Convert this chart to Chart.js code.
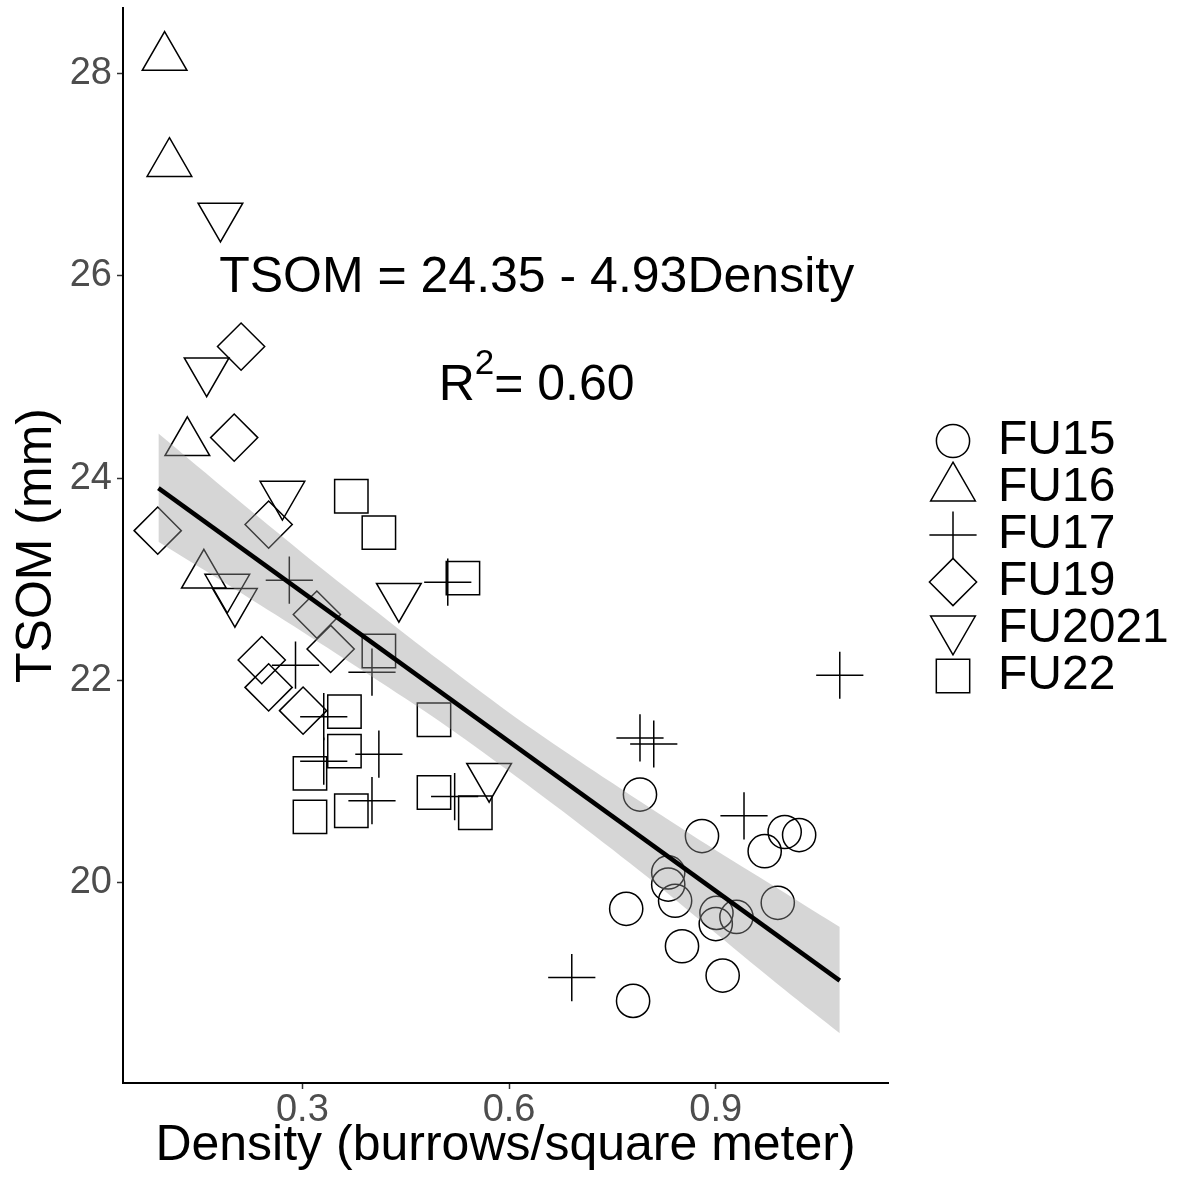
<!DOCTYPE html>
<html>
<head>
<meta charset="utf-8">
<title>TSOM vs burrow density</title>
<script src="https://cdn.jsdelivr.net/npm/chart.js@4.4.1/dist/chart.umd.min.js"></script>
<style>
  html, body { margin: 0; padding: 0; background: #fff; }
  canvas { display: block; }
</style>
</head>
<body>
<canvas id="chart" width="1179" height="1186"></canvas>
<script>
// values
const fu15X = [0.790, 0.880, 1.000, 1.021, 0.971, 0.831, 0.831, 0.841, 0.770, 0.901, 0.900, 0.930, 0.990, 0.851, 0.910, 0.780];
const fu15Y = [20.87, 20.46, 20.50, 20.47, 20.31, 20.10, 19.98, 19.82, 19.74, 19.70, 19.59, 19.66, 19.80, 19.37, 19.08, 18.83];

const fu16X = [0.100, 0.107, 0.133, 0.157];
const fu16Y = [28.16, 27.11, 24.35, 23.04];

const fu17X = [0.281, 0.511, 0.290, 0.401, 0.331, 0.331, 0.411, 0.401, 0.521, 0.790, 0.810, 0.941, 0.691, 1.080];
const fu17Y = [22.99, 22.97, 22.15, 22.08, 21.64, 21.20, 21.27, 20.81, 20.85, 21.43, 21.37, 20.66, 19.06, 22.05];

const fu19X = [0.211, 0.201, 0.090, 0.251, 0.321, 0.341, 0.241, 0.251, 0.301];
const fu19Y = [25.30, 24.40, 23.48, 23.54, 22.65, 22.31, 22.20, 21.93, 21.70];

const fu2021X = [0.181, 0.161, 0.271, 0.191, 0.202, 0.440, 0.571];
const fu2021Y = [26.59, 25.06, 23.84, 22.92, 22.78, 22.83, 21.05];

const fu22X = [0.371, 0.411, 0.533, 0.411, 0.361, 0.491, 0.361, 0.311, 0.491, 0.311, 0.371, 0.551];
const fu22Y = [23.82, 23.46, 23.01, 22.29, 21.69, 21.61, 21.30, 21.08, 20.89, 20.65, 20.71, 20.69];

// fitted line and its confidence band
const fitX = [0.091, 1.080];
const fitY = [23.90, 19.03];
const bandX = [0.091, 0.2, 0.3, 0.4, 0.5, 0.6, 0.7, 0.8, 0.9, 1.0, 1.080];
const bandUpper = [24.44, 23.82, 23.26, 22.72, 22.19, 21.68, 21.21, 20.76, 20.32, 19.90, 19.56];
const bandLower = [23.37, 22.91, 22.48, 22.04, 21.59, 21.10, 20.59, 20.06, 19.50, 18.94, 18.51];

const xTicks = [0.3, 0.6, 0.9];
const yTicks = [20, 22, 24, 26, 28];

const eqText = 'TSOM = 24.35 - 4.93Density';
const eqPos = [0.64, 25.98];
const r2Value = '0.60';
const r2Pos = [0.64, 24.91];

const FONT = '"Liberation Sans", Arial, sans-serif';
const toXY = (xs, ys) => xs.map((x, i) => ({x: x, y: ys[i]}));

function pts(label, xs, ys, style, radius, rotation) {
  return {
    type: 'scatter',
    label: label,
    data: toXY(xs, ys),
    pointStyle: style,
    pointRadius: radius,
    pointHoverRadius: radius,
    rotation: rotation || 0,
    borderColor: '#000',
    backgroundColor: 'rgba(0,0,0,0)',
    borderWidth: 1.5,
    order: 3,
    legendMark: true
  };
}

function drawMark(ctx, style, r, rot, x, y) {
  ctx.beginPath();
  if (style === 'circle') {
    ctx.arc(x, y, r, 0, Math.PI * 2);
  } else if (style === 'rect') {
    const h = r * Math.SQRT1_2;
    ctx.rect(x - h, y - h, 2 * h, 2 * h);
  } else if (style === 'rectRot') {
    ctx.moveTo(x - r, y); ctx.lineTo(x, y - r); ctx.lineTo(x + r, y); ctx.lineTo(x, y + r); ctx.closePath();
  } else if (style === 'cross') {
    ctx.moveTo(x - r, y); ctx.lineTo(x + r, y); ctx.moveTo(x, y - r); ctx.lineTo(x, y + r);
  } else if (style === 'triangle') {
    const a = rot * Math.PI / 180;
    for (let i = 0; i < 3; i++) {
      const t = a + i * 2 * Math.PI / 3;
      const px = x + Math.sin(t) * r, py = y - Math.cos(t) * r;
      if (i) ctx.lineTo(px, py); else ctx.moveTo(px, py);
    }
    ctx.closePath();
  }
  ctx.stroke();
}

// legend on the right, marker sizes as in the plot
const shapeLegend = {
  id: 'shapeLegend',
  afterDraw(chart) {
    const ctx = chart.ctx;
    const area = chart.chartArea;
    const items = chart.data.datasets.filter(d => d.legendMark);
    ctx.save();
    ctx.strokeStyle = '#000';
    ctx.lineWidth = 1.5;
    ctx.fillStyle = '#000';
    ctx.font = '48px ' + FONT;
    ctx.textBaseline = 'middle';
    ctx.textAlign = 'left';
    items.forEach((d, i) => {
      const y = 441 + i * 47;
      drawMark(ctx, d.pointStyle, d.pointRadius, d.rotation, area.right + 65, y);
      ctx.fillText(d.label, area.right + 110, y);
    });
    ctx.restore();
  }
};

// equation and R squared placed in data coordinates
const annotations = {
  id: 'annotations',
  afterDatasetsDraw(chart) {
    const ctx = chart.ctx;
    const xs = chart.scales.x, ys = chart.scales.y;
    ctx.save();
    ctx.fillStyle = '#000';
    ctx.textBaseline = 'middle';
    ctx.font = '50px ' + FONT;
    ctx.textAlign = 'center';
    ctx.fillText(eqText, xs.getPixelForValue(eqPos[0]), ys.getPixelForValue(eqPos[1]));

    const cx = xs.getPixelForValue(r2Pos[0]);
    const cy = ys.getPixelForValue(r2Pos[1]);
    ctx.textAlign = 'left';
    ctx.font = '50px ' + FONT;
    const wR = ctx.measureText('R').width;
    const rest = '= ' + r2Value;
    const wRest = ctx.measureText(rest).width;
    ctx.font = '35px ' + FONT;
    const wSup = ctx.measureText('2').width;
    let x0 = cx - (wR + wSup + wRest) / 2;
    ctx.font = '50px ' + FONT;
    ctx.fillText('R', x0, cy);
    ctx.font = '35px ' + FONT;
    ctx.fillText('2', x0 + wR, cy - 22);
    ctx.font = '50px ' + FONT;
    ctx.fillText(rest, x0 + wR + wSup, cy);
    ctx.restore();
  }
};

const ctx = document.getElementById('chart').getContext('2d');
new Chart(ctx, {
  type: 'scatter',
  data: {
    datasets: [
      pts('FU15', fu15X, fu15Y, 'circle', 16.6),
      pts('FU16', fu16X, fu16Y, 'triangle', 25.8),
      pts('FU17', fu17X, fu17Y, 'cross', 23.6),
      pts('FU19', fu19X, fu19Y, 'rectRot', 23.6),
      pts('FU2021', fu2021X, fu2021Y, 'triangle', 25.8, 180),
      pts('FU22', fu22X, fu22Y, 'rect', 23.6),
      {
        type: 'line',
        label: 'band upper',
        data: toXY(bandX, bandUpper),
        borderWidth: 0,
        pointRadius: 0,
        tension: 0.3,
        fill: '+1',
        backgroundColor: 'rgba(153,153,153,0.4)',
        order: 2
      },
      {
        type: 'line',
        label: 'band lower',
        data: toXY(bandX, bandLower),
        borderWidth: 0,
        pointRadius: 0,
        tension: 0.3,
        fill: false,
        order: 2
      },
      {
        type: 'line',
        label: 'fit',
        data: toXY(fitX, fitY),
        borderColor: '#000',
        borderWidth: 4.5,
        pointRadius: 0,
        fill: false,
        order: 1
      }
    ]
  },
  options: {
    responsive: false,
    animation: false,
    events: [],
    layout: { autoPadding: false, padding: { left: 0, top: 8, right: 291, bottom: 0 } },
    plugins: {
      legend: { display: false },
      tooltip: { enabled: false }
    },
    scales: {
      x: {
        type: 'linear',
        min: 0.0396,
        max: 1.150,
        afterBuildTicks: s => { s.ticks = xTicks.map(v => ({value: v})); },
        afterFit: s => { s.height = 103; s.paddingLeft = 0; s.paddingRight = 0; },
        border: { display: true, color: '#000', width: 2 },
        grid: { display: true, drawOnChartArea: false, drawTicks: true, tickLength: 6, tickColor: '#333', tickWidth: 1.5 },
        ticks: {
          color: '#4D4D4D', padding: 3, maxRotation: 0, autoSkip: false,
          font: { size: 38, family: FONT, lineHeight: 1 },
          callback: v => v.toFixed(1)
        },
        title: {
          display: true, text: 'Density (burrows/square meter)', color: '#000',
          font: { size: 50, family: FONT }, padding: { top: 0, bottom: 10 }
        }
      },
      y: {
        type: 'linear',
        min: 18.018,
        max: 28.648,
        afterBuildTicks: s => { s.ticks = yTicks.map(v => ({value: v})); },
        afterFit: s => { s.width = 123; s.paddingTop = 0; s.paddingBottom = 0; },
        border: { display: true, color: '#000', width: 2 },
        grid: { display: true, drawOnChartArea: false, drawTicks: true, tickLength: 6, tickColor: '#333', tickWidth: 1.5 },
        ticks: {
          color: '#4D4D4D', padding: 5, autoSkip: false,
          font: { size: 38, family: FONT },
          callback: v => String(v)
        },
        title: {
          display: true, text: 'TSOM (mm)', color: '#000',
          font: { size: 50, family: FONT }, padding: { top: 7, bottom: 0 }
        }
      }
    }
  },
  plugins: [annotations, shapeLegend]
});
</script>
</body>
</html>
